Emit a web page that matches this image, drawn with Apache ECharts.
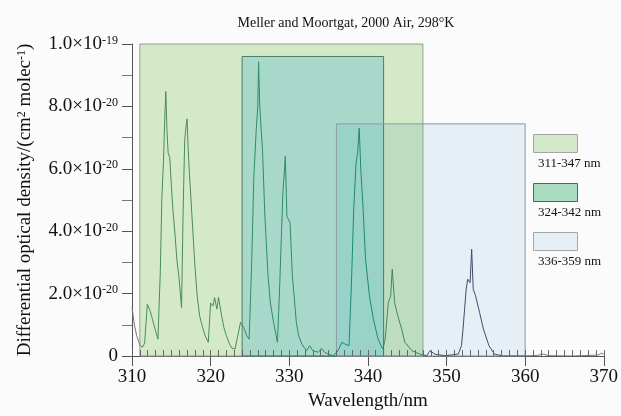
<!DOCTYPE html>
<html>
<head>
<meta charset="utf-8">
<script src="https://cdn.jsdelivr.net/npm/echarts@6/dist/echarts.min.js"></script>
<style>
  html, body { margin: 0; padding: 0; background: #fbfbfb; }
  #main { width: 621px; height: 416px; }
</style>
</head>
<body>
<div id="main"></div>
<script>
// spectrum (absorbance in units of 1e-21 cm2 molec-1)
const wavelength = [
  310.0, 310.3, 310.6, 311.0, 311.3, 311.6, 311.95, 312.3, 312.6, 313.0,
  313.3, 313.6, 313.8, 314.0, 314.15, 314.3, 314.45, 314.6, 314.8, 315.0,
  315.2, 315.5, 315.7, 316.0, 316.3, 316.5, 316.7, 316.85, 317.0, 317.15,
  317.3, 317.6, 318.0, 318.3, 318.6, 319.0, 319.3, 319.7, 320.0, 320.3,
  320.5, 320.8, 321.0, 321.4, 321.7, 322.0, 322.4, 322.7, 323.1, 323.5,
  323.8, 324.2, 324.6, 324.9, 325.2, 325.5, 325.8, 326.0, 326.1, 326.25,
  326.4, 326.6, 326.9, 327.3, 327.6, 328.0, 328.5, 328.8, 329.0, 329.2,
  329.35, 329.5, 329.7, 330.1, 330.4, 330.9, 331.2, 331.6, 332.2, 332.6,
  333.0, 333.7, 334.1, 334.5, 335.0, 335.6, 336.2, 336.7, 337.1, 337.6,
  337.9, 338.2, 338.5, 338.7, 338.9, 339.1, 339.4, 339.7, 340.2, 340.7,
  341.3, 341.9, 342.2, 342.6, 342.9, 343.1, 343.4, 343.8, 344.3, 344.7,
  345.6, 346.6, 347.5, 347.9, 348.5, 349.8, 351.5, 351.9, 352.1, 352.5,
  352.7, 353.0, 353.2, 353.4, 353.7, 354.2, 354.7, 355.4, 356.1, 357.2,
  360.0, 361.5, 362.3, 363.0, 366.0, 369.3, 369.7, 370.0
];
const absorbance = [
  15.6, 10.0, 6.5, 3.5, 2.8, 4.0, 16.6, 14.5, 11.8, 8.0,
  5.4, 27.0, 51.0, 62.0, 75.0, 84.8, 72.0, 65.0, 63.6, 55.0,
  47.0, 38.0, 31.0, 24.6, 15.5, 46.0, 69.0, 73.0, 76.0, 66.0,
  58.7, 46.0, 28.9, 19.0, 12.9, 9.0, 6.5, 4.4, 17.0, 16.0,
  18.7, 15.0, 18.8, 12.9, 9.0, 6.5, 3.8, 2.5, 2.2, 7.0,
  10.8, 9.2, 6.5, 5.4, 28.0, 57.6, 72.5, 80.0, 94.3, 80.0,
  73.6, 66.0, 44.8, 25.7, 17.0, 10.8, 4.4, 23.5, 38.4, 52.8,
  58.0, 64.0, 44.8, 42.7, 25.7, 10.8, 6.5, 3.8, 1.7, 3.3,
  1.7, 1.2, 2.5, 1.2, 0.6, 0.1, 1.7, 4.4, 3.8, 3.3,
  22.5, 47.0, 61.9, 65.0, 73.0, 59.7, 47.0, 31.0, 19.3, 11.8,
  5.4, 2.2, 5.4, 17.1, 19.3, 27.8, 17.1, 12.9, 8.6, 4.4,
  1.7, 0.6, 0.1, 1.7, 0.6, 0.1, 0.6, 3.3, 8.6, 21.4,
  24.6, 23.5, 34.2, 21.4, 19.3, 14.0, 8.6, 3.3, 0.6, 0.0,
  0.0, 0.2, 0.6, 0.1, 0.0, 0.3, 0.9, 0.6
];

// the three wavelength bands
const bandNames = ['311-347 nm', '324-342 nm', '336-359 nm'];
const bandStart = [311, 324, 336];
const bandEnd = [347, 342, 360];
const bandTop = [100, 96, 74.4];
const bandFill = ['#d4e9c8', '#a8d8c9', '#e6eef6'];
const bandBorder = ['#8fa08f', '#4b7d64', '#8c9aa8'];

const yTicks = [0, 20, 40, 60, 80, 100];

const font = 'Liberation Serif';
const chart = echarts.init(document.getElementById('main'));

// box + overlaps (overlaps are computed from the band ranges)
function box(i, j, color) {
  const x0 = Math.max(bandStart[i], bandStart[j]);
  const x1 = Math.min(bandEnd[i], bandEnd[j]);
  const top = Math.min(bandTop[i], bandTop[j]);
  return [{ xAxis: x0, yAxis: 0, itemStyle: { color: color, borderWidth: 0 } }, { xAxis: x1, yAxis: top }];
}
const areas = [];
bandNames.forEach((n, i) => areas.push(box(i, i, bandFill[i])));
areas.push(box(0, 2, '#bddcc0'));
areas.push(box(1, 2, '#99d3c7'));
bandNames.forEach((n, i) => areas.push([
  { xAxis: bandStart[i], yAxis: 0, itemStyle: { color: 'rgba(0,0,0,0)', borderColor: bandBorder[i], borderWidth: 1 } },
  { xAxis: bandEnd[i], yAxis: bandTop[i] }
]));

const supLabel = v => {
  if (v === 0) return '0';
  if (v >= 100) return (v / 100).toFixed(1) + '×10{sup|-19}';
  return (v / 10).toFixed(1) + '×10{sup|-20}';
};

const legendItems = [];
bandNames.forEach((n, i) => {
  const top = 134 + i * 49;
  legendItems.push({
    type: 'rect', left: 533, top: top,
    shape: { width: 44, height: 18 },
    style: { fill: i === 1 ? '#a9dcc0' : bandFill[i], stroke: i === 1 ? '#3f6f55' : '#a0aaa8', lineWidth: 1 }
  });
  legendItems.push({
    type: 'text', left: 538, top: top + 23,
    style: { text: n, font: '13px "Liberation Serif"', fill: '#111' }
  });
});

const supStyle = { fontFamily: font, fontSize: 12, verticalAlign: 'top', lineHeight: 10, padding: [0, 0, 10, 0] };

const option = {
  backgroundColor: '#fbfbfb',
  animation: false,
  title: {
    text: 'Meller and Moortgat, 2000 Air, 298°K',
    left: 341, top: 11, textAlign: 'center',
    textStyle: { fontFamily: font, fontSize: 14, fontWeight: 'normal', color: '#111' }
  },
  grid: { left: 132, right: 17, top: 44, bottom: 59 },
  xAxis: [{
    type: 'value', min: 310, max: 370, interval: 10,
    name: 'Wavelength/nm', nameLocation: 'middle', nameGap: 36,
    nameTextStyle: { fontFamily: font, fontSize: 19, color: '#111' },
    axisLine: { lineStyle: { color: '#555' } },
    axisTick: { length: 10, lineStyle: { color: '#555' } },
    axisLabel: { fontFamily: font, fontSize: 19, color: '#111', margin: 12 },
    splitLine: { show: false }
  }, {
    type: 'value', min: 310, max: 370, interval: 1, position: 'bottom', z: 10,
    axisLine: { show: false },
    axisTick: { inside: true, length: 6, lineStyle: { color: '#666' } },
    axisLabel: { show: false },
    splitLine: { show: false }
  }],
  yAxis: {
    type: 'value', min: 0, max: 100, interval: 20,
    name: 'Differential optical density/(cm{sup|2} molec{sup|-1})',
    nameLocation: 'middle', nameRotate: 90, nameGap: 96,
    nameTextStyle: { fontFamily: font, fontSize: 19, color: '#111', rich: { sup: supStyle } },
    axisLine: { show: true, lineStyle: { color: '#555' } },
    axisTick: { length: 10, lineStyle: { color: '#555' } },
    minorTick: { show: true, splitNumber: 2, length: 10, lineStyle: { color: '#777' } },
    axisLabel: {
      fontFamily: font, fontSize: 19, color: '#111', margin: 14,
      formatter: v => yTicks.includes(v) ? supLabel(v) : '',
      rich: { sup: supStyle }
    },
    splitLine: { show: false }
  },
  visualMap: {
    show: false, type: 'piecewise', seriesIndex: 1, dimension: 0,
    pieces: [
      { lt: 311, color: '#777777' },
      { gte: 311, lt: 324, color: '#4a8a5c' },
      { gte: 324, lt: 336, color: '#2e8a6a' },
      { gte: 336, lt: 342, color: '#1c8a74' },
      { gte: 342, lt: 347, color: '#3c8a5a' },
      { gte: 347, lt: 360, color: '#424c6a' },
      { gte: 360, color: '#777777' }
    ]
  },
  graphic: legendItems,
  series: [{
    type: 'line', data: [], z: 1, silent: true,
    markArea: { silent: true, data: areas }
  }, {
    type: 'line', z: 3,
    data: wavelength.map((w, i) => [w, absorbance[i]]),
    showSymbol: false, symbol: 'none',
    lineStyle: { width: 1 }
  }]
};

chart.setOption(option);
</script>
</body>
</html>
